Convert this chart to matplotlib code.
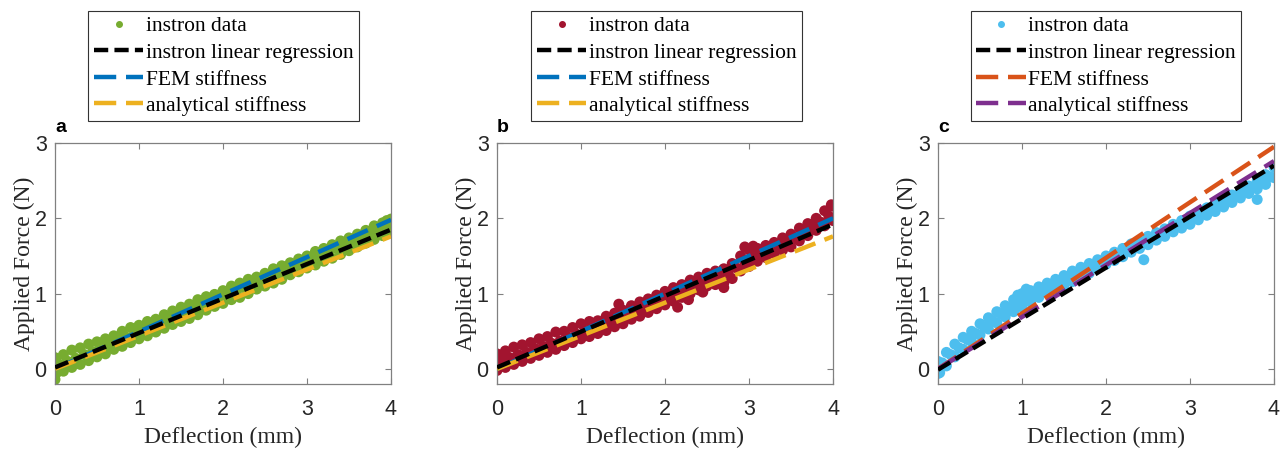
import matplotlib
matplotlib.use('Agg')
import matplotlib.pyplot as plt

# MATLAB default palette
BLUE = '#0072BD'; ORANGE = '#D95319'; YELLOW = '#EDB120'; PURPLE = '#7E2F8E'
GREEN = '#77AC30'; CYAN = '#4DBEEE'; DKRED = '#A2142F'
INK = '#262626'; SPINE = '#808080'

# shared deflection grids (mm)
DEFL = [0.0, 0.1, 0.2, 0.3, 0.4, 0.5, 0.6, 0.7, 0.8, 0.9, 1.0, 1.1, 1.2, 1.3, 1.4,
        1.5, 1.6, 1.7, 1.8, 1.9, 2.0, 2.1, 2.2, 2.3, 2.4, 2.5, 2.6, 2.7, 2.8, 2.9,
        3.0, 3.1, 3.2, 3.3, 3.4, 3.5, 3.6, 3.7, 3.8, 3.9, 4.0]
DEFL_MID = [0.05, 0.15, 0.25, 0.35, 0.45, 0.55, 0.65, 0.75, 0.85, 0.95, 1.05, 1.15,
            1.25, 1.35, 1.45, 1.55, 1.65, 1.75, 1.85, 1.95, 2.05, 2.15, 2.25, 2.35,
            2.45, 2.55, 2.65, 2.75, 2.85, 2.95, 3.05, 3.15, 3.25, 3.35, 3.45, 3.55,
            3.65, 3.75, 3.85, 3.95]

# panel a - instron data (N)
a_hi = [0.15, 0.19, 0.25, 0.28, 0.33, 0.36, 0.40, 0.44, 0.50, 0.55, 0.58, 0.63, 0.66, 0.72,
        0.77, 0.82, 0.86, 0.92, 0.96, 0.99, 1.04, 1.10, 1.14, 1.19, 1.22, 1.27, 1.33, 1.37,
        1.41, 1.46, 1.50, 1.56, 1.60, 1.65, 1.70, 1.74, 1.79, 1.84, 1.90, 1.94, 1.99]
a_lo = [-0.14, -0.03, 0.02, 0.06, 0.11, 0.16, 0.20, 0.26, 0.30, 0.35, 0.40, 0.44, 0.49, 0.54,
        0.59, 0.63, 0.67, 0.72, 0.78, 0.83, 0.87, 0.92, 0.95, 1.00, 1.06, 1.10, 1.14, 1.19,
        1.25, 1.29, 1.34, 1.38, 1.43, 1.47, 1.52, 1.57, 1.62, 1.67, 1.72, 1.77, 1.82]
a_mid = [0.06, 0.10, 0.14, 0.19, 0.23, 0.29, 0.32, 0.38, 0.42, 0.46, 0.52, 0.56, 0.61, 0.66,
         0.70, 0.75, 0.80, 0.84, 0.89, 0.93, 0.99, 1.03, 1.08, 1.12, 1.17, 1.22, 1.27, 1.31,
         1.36, 1.41, 1.45, 1.50, 1.55, 1.60, 1.64, 1.69, 1.74, 1.78, 1.83, 1.88]
a_ex_x = [0.0, 0.01, 0.02, 0.03, 1.5, 3.95, 3.98]
a_ex_y = [-0.08, 0.0, 0.08, -0.04, 0.80, 1.97, 1.88]

# panel b
b_hi = [0.20, 0.24, 0.29, 0.32, 0.35, 0.40, 0.43, 0.49, 0.50, 0.55, 0.60, 0.63, 0.64, 0.70,
        0.74, 0.78, 0.84, 0.89, 0.93, 0.98, 1.03, 1.08, 1.12, 1.18, 1.22, 1.27, 1.30, 1.33,
        1.40, 1.50, 1.58, 1.60, 1.64, 1.68, 1.74, 1.79, 1.87, 1.93, 2.00, 2.10, 2.16]
b_lo = [-0.02, 0.02, 0.06, 0.10, 0.14, 0.18, 0.22, 0.26, 0.31, 0.35, 0.40, 0.43, 0.47, 0.51,
        0.56, 0.60, 0.66, 0.70, 0.75, 0.80, 0.85, 0.90, 0.95, 1.00, 1.05, 1.10, 1.12, 1.14,
        1.20, 1.30, 1.36, 1.43, 1.48, 1.53, 1.58, 1.62, 1.70, 1.77, 1.84, 1.90, 1.97]
b_mid = [0.12, 0.15, 0.19, 0.22, 0.27, 0.30, 0.34, 0.37, 0.42, 0.46, 0.50, 0.53, 0.58, 0.63,
         0.68, 0.72, 0.76, 0.81, 0.86, 0.92, 0.96, 1.01, 1.07, 1.11, 1.16, 1.20, 1.22, 1.27,
         1.34, 1.42, 1.48, 1.53, 1.58, 1.63, 1.68, 1.74, 1.82, 1.88, 1.95, 2.03]
b_ex_x = [1.45, 2.15, 2.28, 2.45, 2.95, 3.05, 0.02, 3.98, 2.70, 0.0]
b_ex_y = [0.86, 0.82, 0.92, 1.02, 1.62, 1.63, 0.15, 2.18, 1.08, 0.05]

# panel c
c_hi = [0.10, 0.22, 0.33, 0.42, 0.50, 0.60, 0.68, 0.76, 0.84, 0.92, 1.00, 1.04, 1.09, 1.14,
        1.19, 1.24, 1.30, 1.35, 1.40, 1.45, 1.50, 1.55, 1.60, 1.66, 1.70, 1.76, 1.81, 1.86,
        1.92, 1.97, 2.03, 2.08, 2.14, 2.20, 2.25, 2.31, 2.37, 2.43, 2.50, 2.58, 2.68]
c_lo = [-0.06, 0.04, 0.16, 0.26, 0.36, 0.45, 0.53, 0.61, 0.69, 0.76, 0.82, 0.89, 0.95, 1.01,
        1.06, 1.11, 1.16, 1.22, 1.27, 1.34, 1.39, 1.44, 1.49, 1.55, 1.60, 1.65, 1.71, 1.76,
        1.82, 1.87, 1.92, 1.98, 2.04, 2.09, 2.15, 2.21, 2.27, 2.33, 2.39, 2.45, 2.54]
c_mid = [0.06, 0.19, 0.28, 0.39, 0.47, 0.56, 0.64, 0.73, 0.80, 0.87, 0.93, 0.99, 1.04, 1.10,
         1.15, 1.20, 1.25, 1.31, 1.36, 1.42, 1.47, 1.52, 1.57, 1.63, 1.68, 1.73, 1.79, 1.84,
         1.90, 1.95, 2.00, 2.06, 2.11, 2.17, 2.23, 2.29, 2.35, 2.41, 2.48, 2.55]
c_ex_x = [0.02, 0.05, 2.45, 3.80, 3.95, 1.05, 0.95, 0.0]
c_ex_y = [-0.05, 0.08, 1.45, 2.25, 2.55, 1.06, 0.98, 0.0]

# fitted / predicted lines: endpoints at x = 0 and x = 4
LINE_X = [0, 4]
reg_y = {'a': [0.02, 1.85], 'b': [0.02, 1.92], 'c': [-0.01, 2.70]}
fem_y = {'a': [0.0, 1.98], 'b': [0.0, 2.00], 'c': [0.0, 2.95]}
ana_y = {'a': [0.0, 1.76], 'b': [0.0, 1.76], 'c': [0.0, 2.76]}

panels = [
    ('a', GREEN, BLUE, YELLOW, a_hi, a_mid, a_lo, a_ex_x, a_ex_y),
    ('b', DKRED, BLUE, YELLOW, b_hi, b_mid, b_lo, b_ex_x, b_ex_y),
    ('c', CYAN, ORANGE, PURPLE, c_hi, c_mid, c_lo, c_ex_x, c_ex_y),
]
ax_left = [55, 497, 938]
leg_cx = [223.5, 666.5, 1106]

W, H = 1288, 450
fig = plt.figure(figsize=(W/100, H/100), dpi=100)
SERIF = 'Liberation Serif'; SANS = 'Liberation Sans'

for i, (tag, dcol, fcol, acol, hi, mid, lo, exx, exy) in enumerate(panels):
    ax = fig.add_axes([ax_left[i]/W, 66/H, 336/W, 241/H])
    ax.scatter(DEFL + DEFL_MID + DEFL + exx, hi + mid + lo + exy, s=62, color=dcol,
               edgecolors='none', zorder=2)
    ax.plot([], [], ls='none', marker='o', ms=4, color=dcol, label='instron data')
    ax.plot(LINE_X, reg_y[tag], color='black', lw=3.2, dashes=(3.2, 1.4),
            label='instron linear regression', zorder=4)
    ax.plot(LINE_X, fem_y[tag], color=fcol, lw=3.2, dashes=(5, 2.2),
            label='FEM stiffness', zorder=3)
    ax.plot(LINE_X, ana_y[tag], color=acol, lw=3.2, dashes=(5, 2.2),
            label='analytical stiffness', zorder=3)
    ax.set_xlim(0, 4); ax.set_ylim(-0.2, 3)
    ax.set_xticks([0, 1, 2, 3, 4]); ax.set_yticks([0, 1, 2, 3])
    ax.tick_params(direction='in', top=True, right=True, length=4, width=0.8,
                   color=SPINE, labelcolor=INK, labelsize=15.5)
    ax.tick_params(axis='x', pad=11)
    ax.tick_params(axis='y', pad=6)
    for lab in ax.get_xticklabels() + ax.get_yticklabels():
        lab.set_fontfamily(SANS)
    for sp in ax.spines.values():
        sp.set_color(SPINE); sp.set_linewidth(0.9)
    ax.set_xlabel('Deflection (mm)', fontfamily=SERIF, fontsize=17, color=INK, labelpad=5)
    ax.set_ylabel('Applied Force (N)', fontfamily=SERIF, fontsize=17, color=INK, labelpad=0)
    ax.text(0.0, 1.03, tag, transform=ax.transAxes, fontfamily=SANS, fontweight='bold',
            fontsize=14, ha='left', va='bottom', color='black')
    leg = ax.legend(loc='upper center', bbox_to_anchor=(leg_cx[i]/W, 1 - 11/H),
                    bbox_transform=fig.transFigure, prop={'family': SERIF, 'size': 15.5},
                    frameon=True, fancybox=False, framealpha=1, edgecolor='#333333',
                    handlelength=2.3, handletextpad=0.1, labelspacing=0.3,
                    borderpad=0.25, borderaxespad=0)
    leg.get_frame().set_linewidth(0.8)

fig.savefig('out.png', dpi=100)
